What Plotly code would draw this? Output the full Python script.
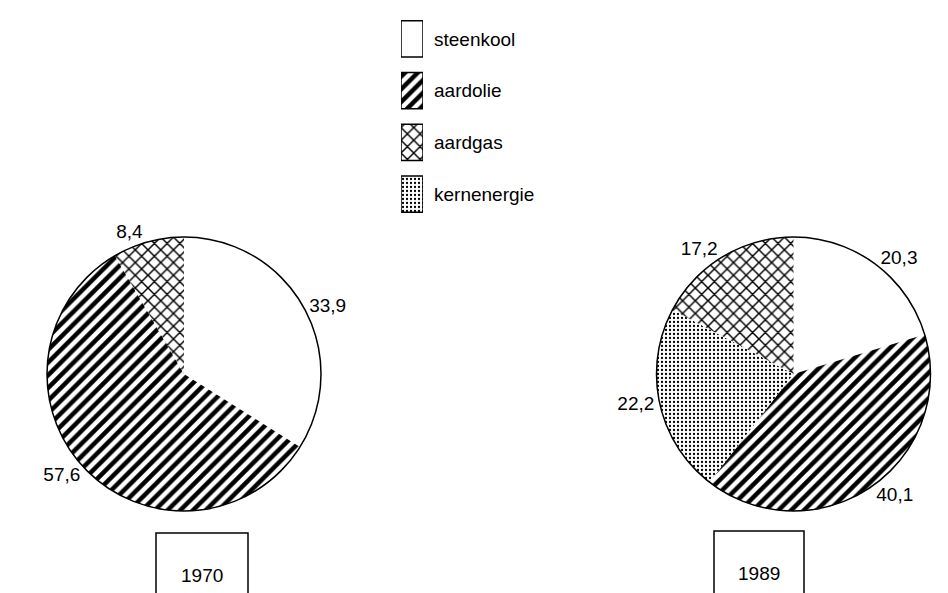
import plotly.graph_objects as go

# ---- data ----
categories = ["steenkool", "aardolie", "aardgas", "kernenergie"]
years = ["1970", "1989"]
labels_1970 = ["steenkool", "aardolie", "aardgas"]
values_1970 = [33.9, 57.6, 8.4]
labels_1989 = ["steenkool", "aardolie", "kernenergie", "aardgas"]
values_1989 = [20.3, 40.1, 22.2, 17.2]

# ---- styles ----
W, H = 948, 593
FONT = "Liberation Sans, Arial, Helvetica, sans-serif"
FS = 19
pat_shape = {"steenkool": "", "aardolie": "/", "aardgas": "x", "kernenergie": "."}
pat_size = {"steenkool": 8, "aardolie": 9, "aardgas": 9, "kernenergie": 4}
pat_sol = {"steenkool": 0.3, "aardolie": 0.5, "aardgas": 0.3, "kernenergie": 0.25}


def px(x):
    return x / W


def py(y):
    return 1 - y / H


def fmt(v):
    return f"{v:.1f}".replace(".", ",")


pies = [
    (labels_1970, values_1970, [39, 313], [229, 503]),
    (labels_1989, values_1989, [648, 923], [229, 503]),
]

fig = go.Figure()
for labels, values, xd, yd in pies:
    dom = dict(x=[px(xd[0]), px(xd[1])], y=[py(yd[1]), py(yd[0])])
    fig.add_trace(go.Pie(
        labels=labels, values=values, text=[fmt(v) for v in values],
        textinfo="text", textposition="outside",
        textfont=dict(family=FONT, size=FS, color="black"),
        sort=False, direction="clockwise", rotation=0,
        marker=dict(
            colors=["white"] * len(labels),
            line=dict(width=0),
            pattern=dict(shape=[pat_shape[l] for l in labels],
                         size=[pat_size[l] for l in labels],
                         solidity=[pat_sol[l] for l in labels],
                         fgcolor="black", bgcolor="white", fillmode="replace"),
        ),
        domain=dom, showlegend=False, hoverinfo="label+value",
    ))
    # outer circle outline
    fig.add_trace(go.Pie(
        labels=["_outline"], values=[sum(values)], sort=False,
        textinfo="none", hoverinfo="skip", showlegend=False,
        marker=dict(colors=["rgba(0,0,0,0)"], line=dict(color="black", width=1.5)),
        domain=dom,
    ))

# legend as patterned bars
fig.add_trace(go.Bar(
    x=[1] * len(categories), y=categories, orientation="h", width=0.7,
    marker=dict(
        color="white", line=dict(color="black", width=1.5),
        pattern=dict(shape=[pat_shape[c] for c in categories],
                     size=[pat_size[c] for c in categories],
                     solidity=[pat_sol[c] for c in categories],
                     fgcolor="black", bgcolor="white", fillmode="replace"),
    ),
    hoverinfo="skip", showlegend=False,
))

shapes = []
annotations = []
boxes = [(148, 240, 525, 567), (706, 796, 523, 565)]
for yr, (x0, x1, y0, yt) in zip(years, boxes):
    shapes.append(dict(
        type="path", xref="paper", yref="paper",
        path=f"M {px(x0)},{py(600)} L {px(x0)},{py(y0)} L {px(x1)},{py(y0)} L {px(x1)},{py(600)}",
        line=dict(color="black", width=1.5),
    ))
    annotations.append(dict(
        text=yr, x=px((x0 + x1) / 2), y=py(yt), xref="paper", yref="paper",
        showarrow=False, font=dict(family=FONT, size=FS, color="black"),
        xanchor="center", yanchor="middle",
    ))

fig.update_layout(
    width=W, height=H, margin=dict(l=0, r=0, t=0, b=0),
    paper_bgcolor="white", plot_bgcolor="white", showlegend=False,
    shapes=shapes, annotations=annotations,
    xaxis=dict(domain=[px(393), px(415)], range=[0, 1], visible=False, fixedrange=True),
    yaxis=dict(domain=[py(212), py(5)], autorange="reversed", side="right",
               showgrid=False, zeroline=False, showline=False, ticks="",
               ticklabelstandoff=10, fixedrange=True,
               tickfont=dict(family=FONT, size=FS, color="black")),
)

fig.write_html("out.html")
